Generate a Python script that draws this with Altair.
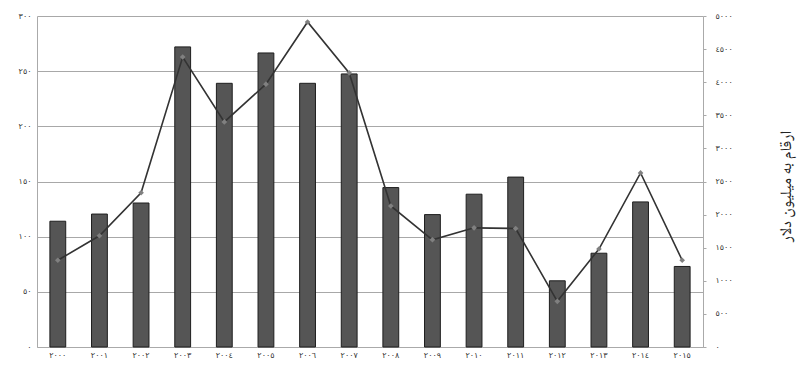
import altair as alt
import pandas as pd

years = [2000, 2001, 2002, 2003, 2004, 2005, 2006, 2007,
         2008, 2009, 2010, 2011, 2012, 2013, 2014, 2015]
bar_values = [114, 120.5, 130.5, 272, 239, 266.5, 239, 247.5,
              144.5, 120, 138.5, 154, 60, 85, 131.5, 73]
line_values = [1310, 1680, 2330, 4380, 3400, 3970, 4910, 4140,
               2130, 1620, 1800, 1790, 690, 1480, 2630, 1310]
left_ticks = [0, 50, 100, 150, 200, 250, 300]
right_ticks = [0, 500, 1000, 1500, 2000, 2500, 3000, 3500, 4000, 4500, 5000]
right_title = "ارقام به میلیون دلار"

AR = "٠١٢٣٤٥٦٧٨٩"
def to_ar(s):
    return str(s).translate(str.maketrans("0123456789", AR))

year_labels = [to_ar(y) for y in years]

df = pd.DataFrame({"year": year_labels, "bar": bar_values, "line": line_values})

expr = "toString(datum.value)"
for d in range(10):
    expr = f"join(split({expr}, '{d}'), '{AR[d]}')"

FONT = "DejaVu Sans"
TITLE_FONT = "Noto Naskh Arabic, Noto Sans Arabic, DejaVu Sans"

x = alt.X("year:N", sort=year_labels, title=None,
          scale=alt.Scale(paddingInner=0.62, paddingOuter=0.31),
          axis=alt.Axis(labelAngle=0, ticks=False, labelFontSize=8, labelColor="#333",
                        labelFont=FONT, domainColor="#aaa", labelPadding=4))

bars = alt.Chart(df).mark_bar(color="#555555", stroke="#1e1e1e", strokeWidth=1).encode(
    x=x,
    y=alt.Y("bar:Q", title=None,
            scale=alt.Scale(domain=[0, 300], nice=False),
            axis=alt.Axis(values=left_ticks, labelExpr=expr, ticks=False, grid=True,
                          gridColor="#a8a8a8", gridWidth=1, domainColor="#aaa",
                          labelFontSize=8, labelColor="#333", labelFont=FONT,
                          labelPadding=6)),
)

line = alt.Chart(df).mark_line(
    color="#333333", strokeWidth=1.6,
    point=alt.OverlayMarkDef(shape="diamond", filled=True, color="#808080", size=32, opacity=1),
).encode(
    x=x,
    y=alt.Y("line:Q", title=right_title,
            scale=alt.Scale(domain=[0, 5000], nice=False),
            axis=alt.Axis(orient="right", values=right_ticks, labelExpr=expr, grid=False,
                          tickSize=3, tickColor="#aaa", domainColor="#aaa",
                          labelFontSize=8, labelColor="#333", labelFont=FONT,
                          labelPadding=9, titleFont=TITLE_FONT, titleFontSize=16,
                          titleFontWeight=300, titleColor="#222",
                          titleAngle=270, titleX=82, titleY=170,
                          titleAlign="center", titleBaseline="middle")),
)

chart = alt.layer(bars, line).resolve_scale(y="independent").properties(
    width=666, height=331,
    padding={"left": 37, "top": 16, "right": 95, "bottom": 18},
    autosize="none",
    background="white",
).configure_view(stroke=None)

chart.save("out.html", embed_options={"renderer": "svg", "actions": False})
